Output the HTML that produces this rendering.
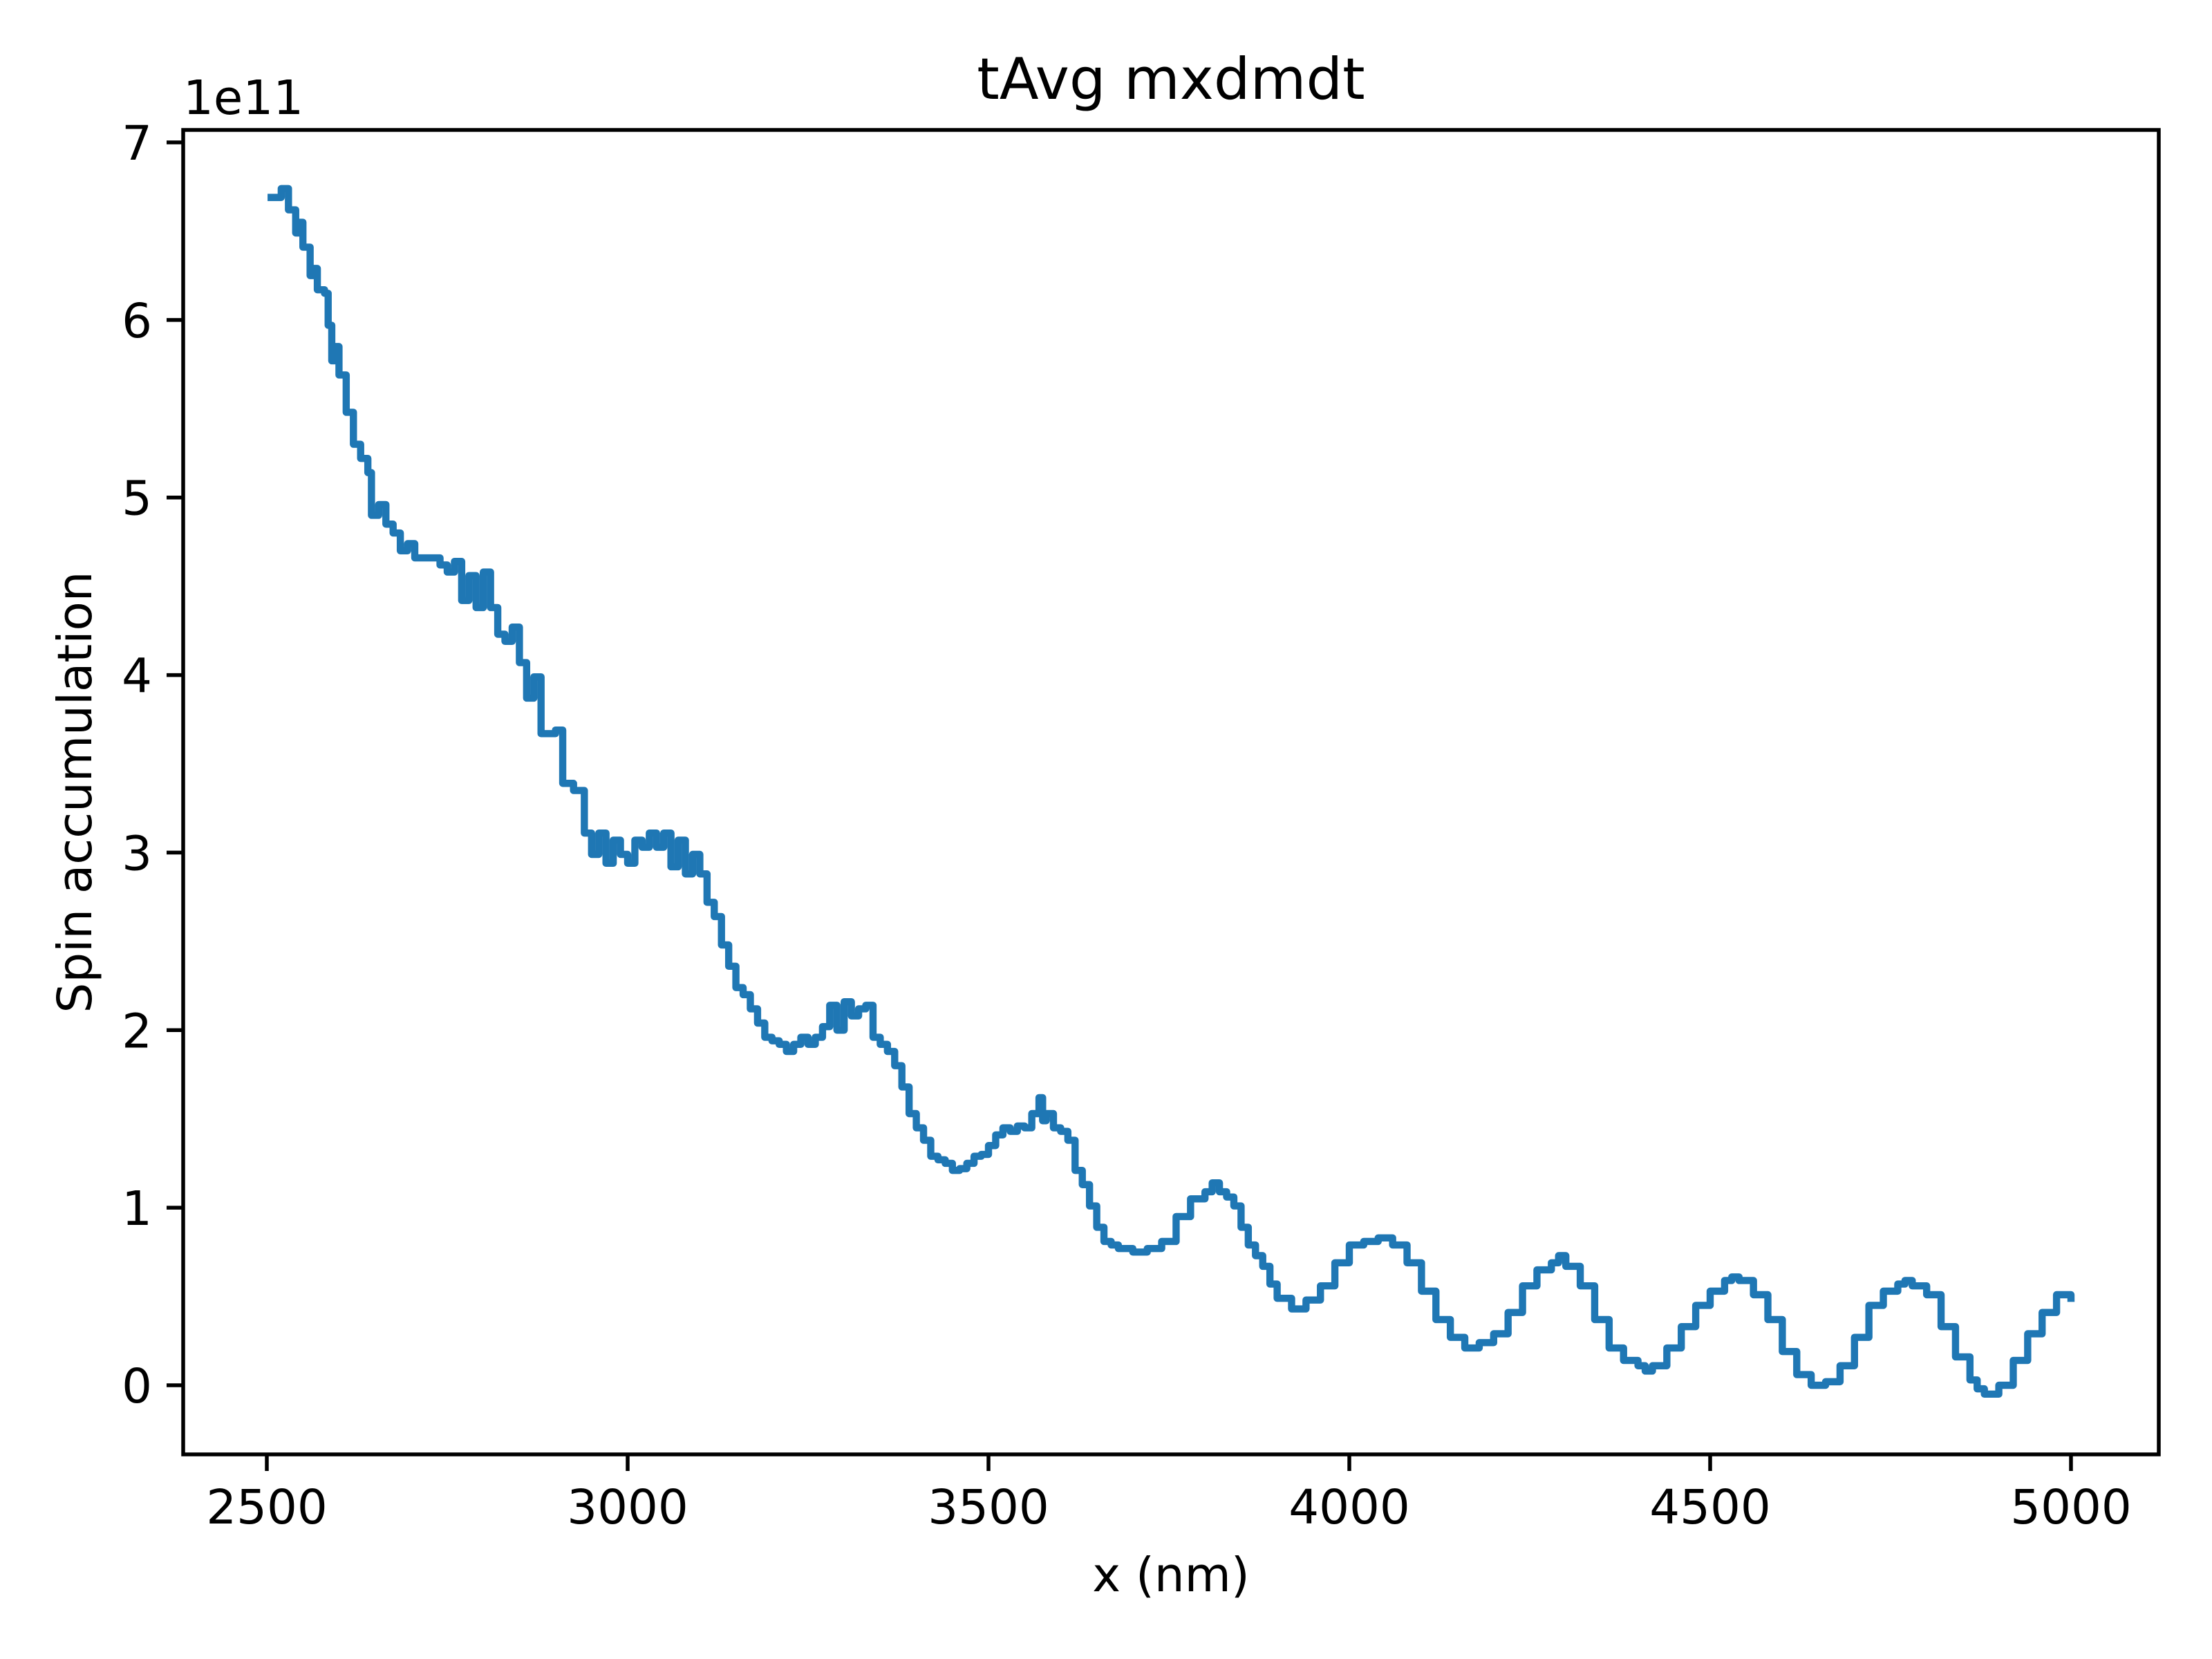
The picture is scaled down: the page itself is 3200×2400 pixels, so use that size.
<!DOCTYPE html>
<html><head><meta charset="utf-8"><style>
html,body{margin:0;padding:0;background:#fff;}
svg{display:block;font-family:"DejaVu Sans","Liberation Sans",sans-serif;}
</style></head><body>
<svg id="chart" width="3200" height="2400" viewBox="0 0 3200 2400" xmlns="http://www.w3.org/2000/svg">
<rect width="3200" height="2400" fill="#fff"/>
<g id="plot"></g>
<g id="axes"></g>
</svg>
<script>
const xs = [2506,2520,2530,2540,2545,2550,2560,2565,2570,2580,2585,2590,2595,2600,2610,2620,2630,2640,2645,2655,2665,2675,2685,2695,2705,2720,2740,2750,2760,2770,2780,2790,2800,2810,2820,2830,2840,2850,2860,2870,2880,2900,2910,2925,2940,2950,2960,2970,2980,2990,3000,3010,3020,3030,3040,3050,3060,3070,3080,3090,3100,3110,3120,3130,3140,3150,3160,3170,3180,3190,3200,3210,3220,3230,3240,3250,3260,3270,3280,3290,3300,3310,3320,3330,3340,3350,3360,3370,3380,3390,3400,3410,3420,3430,3440,3450,3460,3470,3480,3490,3500,3510,3520,3530,3540,3550,3560,3570,3575,3580,3590,3600,3610,3620,3630,3640,3650,3660,3670,3680,3700,3720,3740,3760,3780,3800,3810,3820,3830,3840,3850,3860,3870,3880,3890,3900,3920,3940,3960,3980,4000,4020,4040,4060,4080,4100,4120,4140,4160,4180,4200,4220,4240,4260,4280,4290,4300,4320,4340,4360,4380,4400,4410,4420,4440,4460,4480,4500,4520,4530,4540,4560,4580,4600,4620,4640,4660,4680,4700,4720,4740,4760,4770,4780,4800,4820,4840,4860,4870,4880,4900,4920,4940,4960,4980,5000];
const ys = [6.69,6.74,6.62,6.49,6.55,6.41,6.25,6.29,6.17,6.15,5.97,5.77,5.85,5.69,5.48,5.30,5.22,5.14,4.90,4.96,4.85,4.80,4.70,4.74,4.66,4.66,4.62,4.58,4.64,4.42,4.56,4.38,4.58,4.38,4.23,4.19,4.27,4.07,3.87,3.99,3.67,3.69,3.39,3.35,3.11,2.99,3.11,2.94,3.07,2.99,2.94,3.07,3.03,3.11,3.03,3.11,2.92,3.07,2.88,2.99,2.88,2.72,2.64,2.48,2.36,2.24,2.20,2.12,2.04,1.96,1.94,1.92,1.88,1.92,1.96,1.92,1.96,2.02,2.14,2.00,2.16,2.08,2.12,2.14,1.96,1.92,1.88,1.80,1.68,1.53,1.45,1.38,1.29,1.27,1.25,1.21,1.22,1.25,1.29,1.30,1.35,1.41,1.45,1.43,1.46,1.45,1.53,1.62,1.49,1.53,1.45,1.43,1.38,1.21,1.13,1.01,0.89,0.81,0.79,0.77,0.75,0.77,0.81,0.95,1.05,1.09,1.14,1.09,1.06,1.01,0.89,0.79,0.73,0.67,0.57,0.49,0.43,0.48,0.56,0.69,0.79,0.81,0.83,0.79,0.69,0.53,0.37,0.27,0.21,0.24,0.29,0.41,0.56,0.65,0.69,0.73,0.67,0.56,0.37,0.21,0.14,0.11,0.08,0.11,0.21,0.33,0.45,0.53,0.59,0.61,0.59,0.51,0.37,0.19,0.06,0.00,0.02,0.11,0.27,0.45,0.53,0.57,0.59,0.56,0.51,0.33,0.16,0.03,-0.02,-0.05,0.00,0.14,0.29,0.41,0.51,0.49];
const xTicks = [2500,3000,3500,4000,4500,5000];
const yTicks = [0,1,2,3,4,5,6,7];

const L=265,R=3123,T=188,B=2104;
function sx(v){return 386+(v-2500)*(2996-386)/2500;}
function sy(v){return 2004-v*(2004-206)/7;}
const NS="http://www.w3.org/2000/svg";
const plot=document.getElementById('plot'), axes=document.getElementById('axes');
function mk(tag,attrs,parent){const e=document.createElementNS(NS,tag);for(const k in attrs)e.setAttribute(k,attrs[k]);parent.appendChild(e);return e;}

let d='M'+sx(xs[0])+','+sy(ys[0]);
for(let i=1;i<xs.length;i++){d+=' H'+sx(xs[i])+' V'+sy(ys[i]);}
const line=mk('path',{d:d,fill:'none',stroke:'#1f77b4','stroke-width':10.4,'stroke-linejoin':'round','stroke-linecap':'square'},plot);



const frame=mk('rect',{x:L,y:T,width:R-L,height:B-T,fill:'none',stroke:'#000','stroke-width':5.5},axes);



xTicks.forEach(v=>{
  const t=mk('line',{x1:sx(v),x2:sx(v),y1:B,y2:B+24,stroke:'#000','stroke-width':5.5},axes);
  
  
  const tx=mk('text',{x:sx(v),y:B+100,'font-size':69,'text-anchor':'middle',fill:'#000'},axes);
  tx.textContent=v;
  
  
});
yTicks.forEach(v=>{
  const t=mk('line',{x1:L-24,x2:L,y1:sy(v),y2:sy(v),stroke:'#000','stroke-width':5.5},axes);
  
  
  const tx=mk('text',{x:L-45,y:sy(v)+25,'font-size':69,'text-anchor':'end',fill:'#000'},axes);
  tx.textContent=v;
  
  
});
</script>
<script>
(function(){
const NS="http://www.w3.org/2000/svg";
const svg=document.getElementById('chart');
function txt(s,attrs,name){const e=document.createElementNS(NS,'text');for(const k in attrs)e.setAttribute(k,attrs[k]);e.textContent=s;svg.appendChild(e);


}
txt('tAvg mxdmdt',{x:1694,y:143,'font-size':83,'text-anchor':'middle'},'chart-title');
txt('x (nm)',{x:1694,y:2302,'font-size':69,'text-anchor':'middle'},'x-axis-title');
txt('Spin accumulation',{x:0,y:0,'font-size':69,'text-anchor':'middle',transform:'translate(132,1146) rotate(-90)'},'y-axis-title');
txt('1e11',{x:265,y:165,'font-size':69,'text-anchor':'start'},'y-scale-offset');
})();
</script>
</body></html>
